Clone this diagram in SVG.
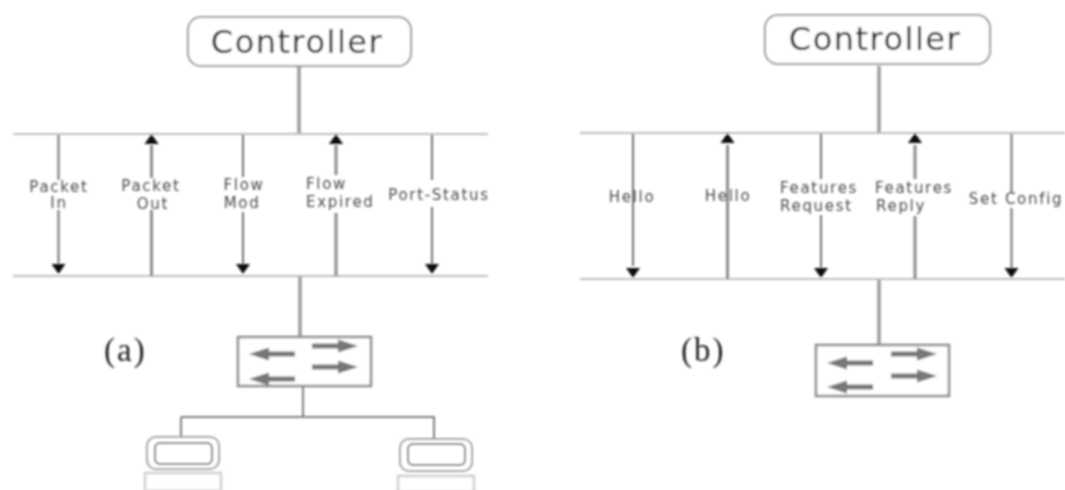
<svg xmlns="http://www.w3.org/2000/svg" width="1065" height="490" viewBox="0 0 1065 490">
<style>
.ctl{fill:#fff;stroke:#7c7c7c;stroke-width:1.6}
.ctlt{font:32px "DejaVu Sans","Liberation Sans",sans-serif;fill:#222;text-anchor:middle;letter-spacing:1.5px}
.bus{stroke:#bdbdbd;stroke-width:2;fill:none}
.wire{stroke:#9c9c9c;stroke-width:3.500;fill:none}
.thin{stroke:#7e7e7e;stroke-width:2;fill:none}
.msg{stroke:#6f6f6f;stroke-width:2;fill:none}
.up{stroke:#8c8c8c;stroke-width:3;fill:none}
.t{font:15px "DejaVu Sans","Liberation Sans",sans-serif;fill:#4a4a4a;letter-spacing:1.7px}
.m{text-anchor:middle}
.cap{font:33px "Liberation Serif","Times New Roman",serif;fill:#222;letter-spacing:2px}
.sw{fill:#fff;stroke:#8a8a8a;stroke-width:2.5}
.ar{fill:#777;stroke:none}
.head{fill:#111}
.pc{fill:#fff;stroke:#a0a0a0;stroke-width:2}
.pci{fill:#fff;stroke:#777;stroke-width:2}
.base{fill:#fff;stroke:#cfcfcf;stroke-width:2.5}
</style>
<defs>
<filter id="soft" x="0" y="0" width="1065" height="490" filterUnits="userSpaceOnUse"><feGaussianBlur stdDeviation="0.8"/></filter>
<path id="hd" class="head" d="M-7,0H7L0,10Z"/>
<path id="hu" class="head" d="M-7,0H7L0,-10Z"/>
<path id="la" class="ar" d="M0,0L20,-6.500V-2.500H46V2.500H20V6.500Z"/>
<path id="ra" class="ar" d="M0,0L-20,-6.500V-2.500H-46V2.500H-20V6.500Z"/>
</defs>
<g filter="url(#soft)">
<g id="connectors">
<path class="wire" d="M299,66V133M300,277V336M879,66V132M879,279V345"/>
<path class="bus" d="M13,134H488M13,276H488M580,133H1065M580,279H1065"/>
<path class="msg" d="M58.500,135V180M58.500,210V266M243,135V177M243,212V266M432,135V180M432,207V266"/>
<path class="up" d="M151.500,145V178M151.500,210V276M336,145V175M336,213V276"/>
<path class="msg" d="M633,134V266M821,134V179M821,215V268M1011.500,134V192M1011.500,208V268"/>
<path class="up" d="M727.500,145V279M915,145V179M915,216V279"/>
<path class="thin" d="M303,387V417M181,417H435M181,417V437M434,417V438"/>
<use href="#hd" x="58.500" y="264"/><use href="#hu" x="151.500" y="144"/><use href="#hd" x="243" y="264"/><use href="#hu" x="336" y="144"/><use href="#hd" x="432" y="264"/>
<use href="#hd" x="633" y="268"/><use href="#hu" x="727.500" y="143"/><use href="#hd" x="821" y="268"/><use href="#hu" x="915" y="143"/><use href="#hd" x="1011.500" y="268"/>
</g>
<g id="controller-a"><rect class="ctl" x="188" y="17" width="223" height="49" rx="13"/><text class="ctlt" x="297" y="53">Controller</text></g>
<g id="controller-b"><rect class="ctl" x="765" y="15" width="225" height="49" rx="13"/><text class="ctlt" x="875" y="50">Controller</text></g>
<g id="labels-a">
<text class="t m" x="59" y="192">Packet</text><text class="t m" x="59" y="208">In</text>
<text class="t m" x="151" y="191">Packet</text><text class="t m" x="153" y="209">Out</text>
<text class="t m" x="244" y="190">Flow</text><text class="t m" x="242" y="208">Mod</text>
<text class="t" x="306" y="189">Flow</text><text class="t" x="306" y="207">Expired</text>
<text class="t m" x="439" y="200">Port-Status</text>
</g>
<g id="labels-b">
<text class="t m" x="632" y="202">Hello</text><text class="t m" x="728" y="201">Hello</text>
<text class="t" x="780" y="193">Features</text><text class="t" x="780" y="211">Request</text>
<text class="t" x="875" y="193">Features</text><text class="t" x="876" y="211">Reply</text>
<text class="t m" x="1016" y="204">Set Config</text>
</g>
<text class="cap" x="104" y="361">(a)</text>
<text class="cap" x="681" y="361">(b)</text>
<g id="switch-a"><rect class="sw" x="238" y="337" width="133" height="49"/>
<use href="#la" x="249" y="354"/><use href="#ra" x="358" y="346"/><use href="#ra" x="358" y="367"/><use href="#la" x="249" y="379"/></g>
<g id="switch-b"><rect class="sw" x="816" y="345" width="133" height="51"/>
<use href="#la" x="827" y="363"/><use href="#ra" x="937" y="354"/><use href="#ra" x="937" y="376"/><use href="#la" x="827" y="387"/></g>
<g id="host-a1"><rect class="pc" x="147" y="437" width="72" height="32" rx="9"/><rect class="pci" x="155" y="443" width="57" height="21" rx="5"/><rect class="base" x="145" y="473" width="76" height="18"/></g>
<g id="host-a2"><rect class="pc" x="400" y="439" width="72" height="32" rx="9"/><rect class="pci" x="408" y="444" width="57" height="21" rx="5"/><rect class="base" x="398" y="476" width="76" height="16"/></g>
</g>
</svg>
